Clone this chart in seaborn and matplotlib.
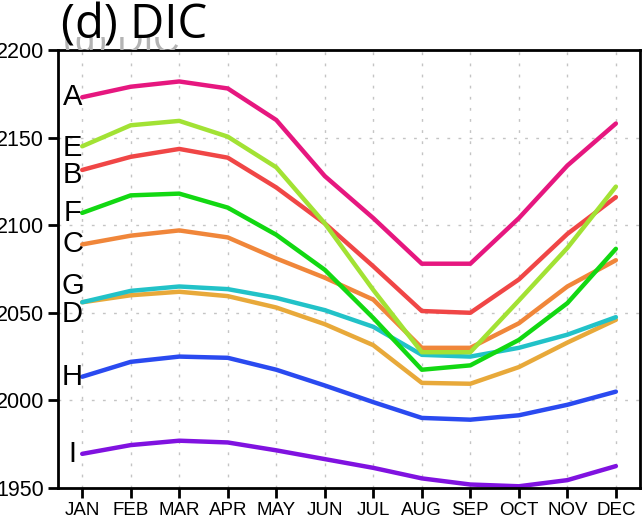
import numpy as np
import pandas as pd
import matplotlib
matplotlib.use('Agg')
import matplotlib.pyplot as plt
from matplotlib.transforms import Bbox
import seaborn as sns

# month labels and DIC curves
months = ['JAN', 'FEB', 'MAR', 'APR', 'MAY', 'JUN', 'JUL', 'AUG', 'SEP', 'OCT', 'NOV', 'DEC']
A = [2173, 2179, 2182, 2178, 2160, 2128, 2104, 2078, 2078, 2104, 2134, 2158]
E = [2145, 2157, 2159.5, 2150.5, 2133, 2101, 2063, 2027.5, 2027.5, 2057, 2087, 2122]
B = [2131.5, 2139, 2143.5, 2138.5, 2121.5, 2101, 2076.5, 2051, 2050, 2069, 2095, 2116]
F = [2107, 2117, 2118, 2110, 2094.5, 2074.5, 2047, 2017.5, 2020, 2034.5, 2055.5, 2086.5]
C = [2089, 2094, 2097, 2093, 2081, 2070, 2057.5, 2030, 2030, 2044, 2065, 2080]
G = [2056, 2062.5, 2065, 2063.5, 2058.5, 2051.5, 2042, 2026, 2025, 2030, 2037.5, 2047.5]
D = [2056, 2060, 2062, 2059.5, 2053, 2043.5, 2031.5, 2010, 2009.5, 2019, 2033, 2046]
H = [2013.5, 2022, 2025, 2024.3, 2017.5, 2008.5, 1999, 1990, 1989, 1991.5, 1997.5, 2005]
I = [1969.5, 1974.5, 1977, 1976, 1971.5, 1966.5, 1961.5, 1955.5, 1952, 1951, 1954.5, 1962.5]

series = {'A': A, 'E': E, 'B': B, 'F': F, 'C': C, 'G': G, 'D': D, 'H': H, 'I': I}
colors = {'A': '#e6177f', 'E': '#a2e234', 'B': '#f04646', 'F': '#12d812',
          'C': '#f0863a', 'G': '#22c2c8', 'D': '#e8a93a', 'H': '#2a4af0', 'I': '#8012e0'}
# nudge letters so G and D don't sit on top of each other
label_shift = {'A': 0, 'E': -1, 'B': -3, 'F': 0, 'C': 0, 'G': 9.5, 'D': -6.5, 'H': 0, 'I': 0}

rows = []
for name, vals in series.items():
    for m, v in enumerate(vals, start=1):
        rows.append({'month': m, 'dic': v, 'run': name})
df = pd.DataFrame(rows)

sns.set_style('white')
plt.rcParams['font.family'] = ['Liberation Sans', 'DejaVu Sans']

fig = plt.figure(figsize=(6.44, 5.2), dpi=100)
ax = fig.add_axes([0.09, 0.0615, 0.904, 0.8425])

sns.lineplot(data=df, x='month', y='dic', hue='run', palette=colors,
             hue_order=list(series.keys())[::-1], linewidth=3.2, legend=False,
             sort=False, ax=ax)

for name, vals in series.items():
    ax.text(0.8, vals[0] + label_shift[name], name, fontsize=21,
            ha='center', va='center', color='black')

ax.set_xlim(0.5, 12.5)
ax.set_ylim(1950, 2200)
ax.set_xticks(range(1, 13))
ax.set_xticklabels(months, fontsize=13.5)
ax.set_yticks(np.arange(1950, 2201, 50))
ax.set_yticklabels([str(v) for v in np.arange(1950, 2201, 50)], fontsize=15.5)
ax.set_xlabel('')
ax.set_ylabel('')

ax.grid(True, color='#c4c4c4', linestyle=(0, (2, 6)), linewidth=1)
ax.tick_params(axis='both', direction='out', length=7, width=2,
               bottom=True, left=True, colors='black', pad=3)
for s in ax.spines.values():
    s.set_color('black')
    s.set_linewidth(2)

# faint leftover title, mostly hidden
ghost = fig.text(0.098, 1 - 52 / 520, '(d) DIC', fontsize=26, color='#b4b4b4',
                 ha='left', va='baseline')
ghost.set_clip_box(Bbox.from_extents(0, 520 - 50, 644, 520 - 37))
ghost.set_clip_on(True)

fig.text(0.095, 1 - 39 / 520, '(d) DIC', fontsize=34, color='black',
         family=['Open Sans', 'DejaVu Sans'], ha='left', va='baseline')

fig.savefig('out.png', dpi=100)
